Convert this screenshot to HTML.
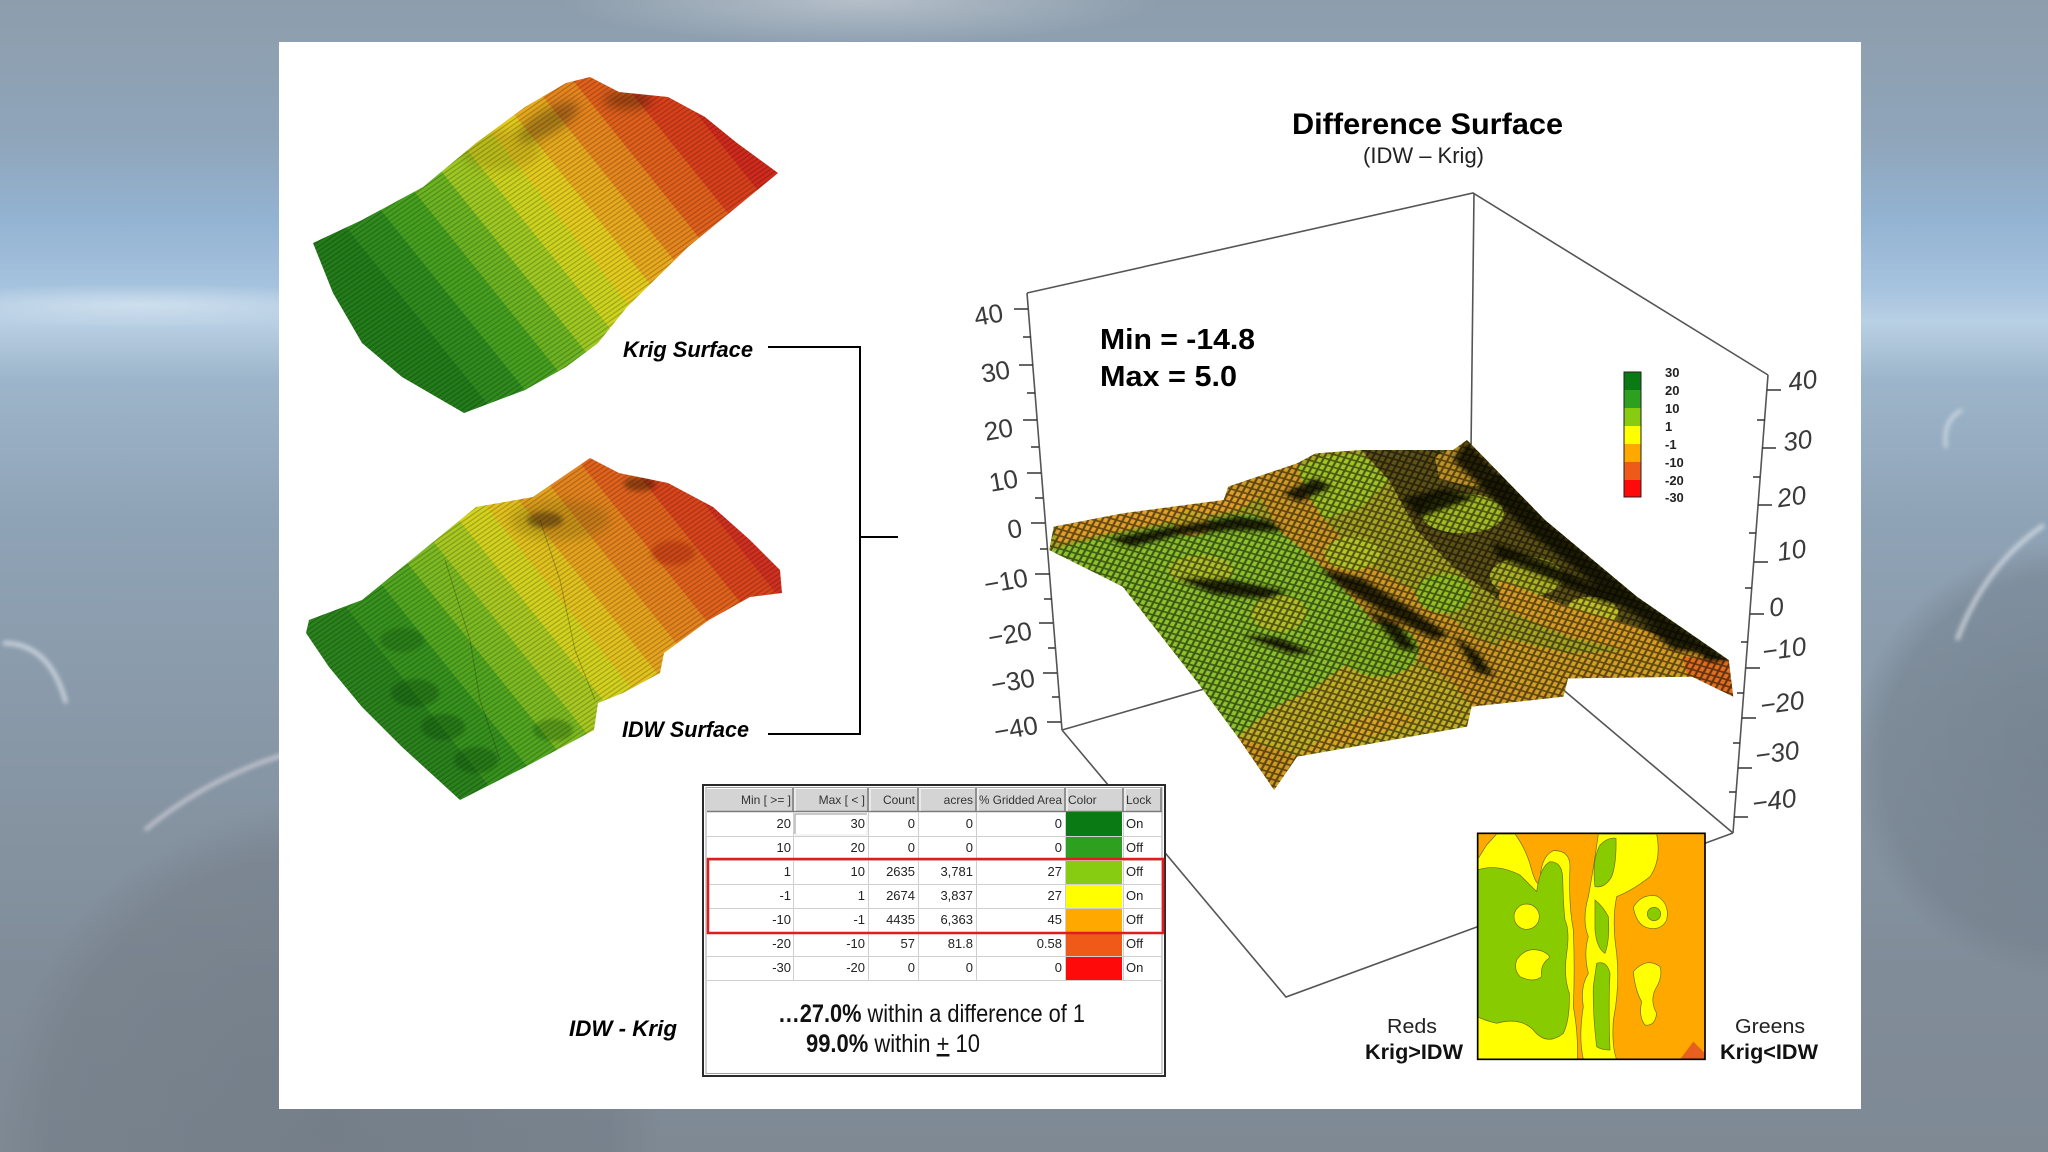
<!DOCTYPE html>
<html><head><meta charset="utf-8">
<style>
html,body{margin:0;padding:0;width:2048px;height:1152px;overflow:hidden;background:#8a9aaa}
svg{display:block;position:absolute;left:0;top:0}
text{font-family:"Liberation Sans",Arial,sans-serif}
</style></head><body>
<svg xmlns="http://www.w3.org/2000/svg" width="2048" height="1152" viewBox="0 0 2048 1152">
<defs>
  <linearGradient id="bg" x1="0" y1="0" x2="0" y2="1">
    <stop offset="0" stop-color="#8d9dac"/>
    <stop offset="0.12" stop-color="#8fa5ba"/>
    <stop offset="0.19" stop-color="#93b3d2"/>
    <stop offset="0.25" stop-color="#a6c3de"/>
    <stop offset="0.28" stop-color="#b9d0e4"/>
    <stop offset="0.33" stop-color="#9db5ca"/>
    <stop offset="0.45" stop-color="#8fa3b6"/>
    <stop offset="0.65" stop-color="#8897a6"/>
    <stop offset="0.85" stop-color="#808c98"/>
    <stop offset="1" stop-color="#7e8994"/>
  </linearGradient>
  <radialGradient id="glowTop" gradientUnits="userSpaceOnUse" cx="860" cy="0" r="300" gradientTransform="translate(860 0) scale(1 0.15) translate(-860 0)">
    <stop offset="0" stop-color="#ffffff" stop-opacity="0.35"/>
    <stop offset="1" stop-color="#ffffff" stop-opacity="0"/>
  </radialGradient>
  <radialGradient id="glowL" gradientUnits="userSpaceOnUse" cx="140" cy="305" r="240" gradientTransform="translate(140 305) scale(1 0.09) translate(-140 -305)">
    <stop offset="0" stop-color="#e2edf6" stop-opacity="0.6"/>
    <stop offset="1" stop-color="#e2edf6" stop-opacity="0"/>
  </radialGradient>
  <radialGradient id="planetL" gradientUnits="userSpaceOnUse" cx="330" cy="1130" r="330">
    <stop offset="0" stop-color="#6e7781" stop-opacity="0.6"/>
    <stop offset="0.85" stop-color="#737c86" stop-opacity="0.5"/>
    <stop offset="1" stop-color="#737c86" stop-opacity="0"/>
  </radialGradient>
  <radialGradient id="planetR" gradientUnits="userSpaceOnUse" cx="2070" cy="760" r="220">
    <stop offset="0" stop-color="#6a7682" stop-opacity="0.6"/>
    <stop offset="0.85" stop-color="#6f7b87" stop-opacity="0.45"/>
    <stop offset="1" stop-color="#6f7b87" stop-opacity="0"/>
  </radialGradient>
  <filter id="b3" x="-50%" y="-50%" width="200%" height="200%"><feGaussianBlur stdDeviation="2.5"/></filter>
  <filter id="b2" x="-50%" y="-50%" width="200%" height="200%"><feGaussianBlur stdDeviation="1.5"/></filter>
  <filter id="b5" x="-50%" y="-50%" width="200%" height="200%"><feGaussianBlur stdDeviation="5"/></filter>
  <filter id="sb" x="-20%" y="-20%" width="140%" height="140%"><feGaussianBlur stdDeviation="6"/></filter>

  <linearGradient id="gK" gradientUnits="userSpaceOnUse" x1="380" y1="330" x2="708" y2="67.5">
    <stop offset="0" stop-color="#237c1a"/><stop offset="0.09" stop-color="#237c1a"/>
    <stop offset="0.09" stop-color="#2f8b1e"/><stop offset="0.18" stop-color="#2f8b1e"/>
    <stop offset="0.18" stop-color="#46a020"/><stop offset="0.27" stop-color="#46a020"/>
    <stop offset="0.27" stop-color="#6cb422"/><stop offset="0.35" stop-color="#6cb422"/>
    <stop offset="0.35" stop-color="#9ec822"/><stop offset="0.43" stop-color="#9ec822"/>
    <stop offset="0.43" stop-color="#ccd41f"/><stop offset="0.5" stop-color="#ccd41f"/>
    <stop offset="0.5" stop-color="#e4cc1e"/><stop offset="0.57" stop-color="#e4cc1e"/>
    <stop offset="0.57" stop-color="#e8aa1e"/><stop offset="0.65" stop-color="#e8aa1e"/>
    <stop offset="0.65" stop-color="#e6861e"/><stop offset="0.73" stop-color="#e6861e"/>
    <stop offset="0.73" stop-color="#e0601c"/><stop offset="0.82" stop-color="#e0601c"/>
    <stop offset="0.82" stop-color="#d8401c"/><stop offset="0.91" stop-color="#d8401c"/>
    <stop offset="0.91" stop-color="#cf2a1c"/><stop offset="1" stop-color="#cf2a1c"/>
  </linearGradient>
  <linearGradient id="gI" gradientUnits="userSpaceOnUse" x1="380" y1="717" x2="708" y2="454.5">
    <stop offset="0" stop-color="#2a821c"/><stop offset="0.1" stop-color="#2a821c"/>
    <stop offset="0.1" stop-color="#37921e"/><stop offset="0.2" stop-color="#37921e"/>
    <stop offset="0.2" stop-color="#52a620"/><stop offset="0.28" stop-color="#52a620"/>
    <stop offset="0.28" stop-color="#7cba22"/><stop offset="0.36" stop-color="#7cba22"/>
    <stop offset="0.36" stop-color="#a8c822"/><stop offset="0.44" stop-color="#a8c822"/>
    <stop offset="0.44" stop-color="#d2d21f"/><stop offset="0.51" stop-color="#d2d21f"/>
    <stop offset="0.51" stop-color="#e2c21e"/><stop offset="0.58" stop-color="#e2c21e"/>
    <stop offset="0.58" stop-color="#e6a41e"/><stop offset="0.66" stop-color="#e6a41e"/>
    <stop offset="0.66" stop-color="#e4841e"/><stop offset="0.75" stop-color="#e4841e"/>
    <stop offset="0.75" stop-color="#e0621c"/><stop offset="0.84" stop-color="#e0621c"/>
    <stop offset="0.84" stop-color="#d8441c"/><stop offset="0.92" stop-color="#d8441c"/>
    <stop offset="0.92" stop-color="#d03020"/><stop offset="1" stop-color="#d03020"/>
  </linearGradient>
  <pattern id="fine" width="4" height="4" patternUnits="userSpaceOnUse" patternTransform="rotate(-35)">
    <rect width="4" height="1.3" fill="#000" opacity="0.22"/>
  </pattern>
  <pattern id="mesh" width="14" height="18" patternUnits="userSpaceOnUse" patternTransform="rotate(22)">
    <path d="M0,0 L14,0 M0,0 L0,18 M0,18 L14,18 M14,0 L14,18" stroke="#000" stroke-width="5" fill="none"/>
  </pattern>
  <clipPath id="cS">
    <polygon points="30,320 180,280 400,240 410,200 560,130 600,100 700,90 900,90 930,60 1100,300 1300,530 1500,720 1510,830 1420,770 1150,775 1140,830 940,860 930,920 560,1010 510,1110 430,950 350,800 180,500 20,390"/>
  </clipPath>
  <clipPath id="cK">
    <path d="M590,77 L619,92 L668,97 L705,117 L737,143 L778,173 L688,247 L627,307 L598,343 L566,367 L525,390 L464,413 L402,377 L362,343 L333,293 L313,243 L362,220 L423,187 L476,143 L525,107 L566,83 Z"/>
  </clipPath>
  <clipPath id="cI">
    <path d="M590,458 L619,473 L668,483 L713,507 L750,540 L780,570 L782,593 L750,597 L709,620 L664,653 L660,673 L623,693 L598,703 L594,730 L525,767 L460,800 L402,747 L362,707 L329,667 L306,633 L309,620 L362,600 L427,547 L476,507 L533,497 Z"/>
  </clipPath>
  <clipPath id="cM"><rect x="413" y="40" width="682" height="678"/></clipPath>
</defs>

<!-- background -->
<rect width="2048" height="1152" fill="url(#bg)"/>
<rect x="500" y="0" width="720" height="50" fill="url(#glowTop)"/>
<rect x="0" y="270" width="380" height="70" fill="url(#glowL)"/>
<rect x="0" y="790" width="680" height="362" fill="url(#planetL)"/>
<rect x="1850" y="540" width="198" height="440" fill="url(#planetR)"/>
<path d="M145,830 Q210,776 290,753" stroke="#f2eaf2" stroke-width="3" fill="none" opacity="0.75" filter="url(#b3)"/>
<path d="M3,643 Q50,643 66,703" stroke="#eef2f6" stroke-width="4" fill="none" opacity="0.7" filter="url(#b3)"/>
<path d="M1957,640 Q1985,565 2044,525" stroke="#eef2f6" stroke-width="4" fill="none" opacity="0.7" filter="url(#b3)"/>
<path d="M1962,410 Q1942,420 1946,448" stroke="#eef2f6" stroke-width="3" fill="none" opacity="0.7" filter="url(#b3)"/>

<!-- white panel -->
<rect x="279" y="42" width="1582" height="1067" fill="#ffffff"/>

<!-- Krig surface -->
<g clip-path="url(#cK)">
  <rect x="300" y="60" width="500" height="370" fill="url(#gK)"/>
  <ellipse cx="548" cy="122" rx="34" ry="12" transform="rotate(-30 548 122)" fill="#2a1a08" opacity="0.35" filter="url(#b5)"/>
  <ellipse cx="628" cy="100" rx="24" ry="9" fill="#1a0a04" opacity="0.35" filter="url(#b5)"/>
  <ellipse cx="500" cy="150" rx="40" ry="20" fill="#6a5010" opacity="0.2" filter="url(#b5)"/>
  <rect x="300" y="60" width="500" height="370" fill="url(#fine)"/>
</g>

<!-- IDW surface -->
<g clip-path="url(#cI)">
  <rect x="300" y="440" width="500" height="370" fill="url(#gI)"/>
  <ellipse cx="560" cy="520" rx="50" ry="20" fill="#7a6010" opacity="0.3" filter="url(#b5)"/>
  <ellipse cx="545" cy="520" rx="18" ry="8" fill="#1a1008" opacity="0.4" filter="url(#b3)"/>
  <ellipse cx="640" cy="484" rx="16" ry="7" fill="#1a0a04" opacity="0.4" filter="url(#b3)"/>
  <ellipse cx="673" cy="553" rx="22" ry="12" fill="#a01810" opacity="0.35" filter="url(#b3)"/>
  <ellipse cx="402" cy="640" rx="22" ry="12" fill="#0e4a10" opacity="0.28" filter="url(#b2)"/>
  <ellipse cx="415" cy="693" rx="24" ry="14" fill="#0e4a10" opacity="0.35" filter="url(#b2)"/>
  <ellipse cx="443" cy="727" rx="22" ry="13" fill="#0e4a10" opacity="0.35" filter="url(#b2)"/>
  <ellipse cx="476" cy="760" rx="22" ry="13" fill="#0e4a10" opacity="0.35" filter="url(#b2)"/>
  <ellipse cx="553" cy="730" rx="20" ry="11" fill="#0e4a10" opacity="0.3" filter="url(#b2)"/>
  <path d="M445,560 L470,640 L480,700 L500,760 M540,520 L560,580 L575,650 L595,700" stroke="#202808" stroke-width="1" opacity="0.3" fill="none"/>
  <rect x="300" y="440" width="500" height="370" fill="url(#fine)"/>
</g>

<!-- labels & bracket -->
<text x="623" y="357" font-size="22" font-weight="bold" font-style="italic" textLength="130" lengthAdjust="spacingAndGlyphs" fill="#000">Krig Surface</text>
<text x="622" y="737" font-size="22" font-weight="bold" font-style="italic" textLength="127" lengthAdjust="spacingAndGlyphs" fill="#000">IDW Surface</text>
<text x="569" y="1036" font-size="22" font-weight="bold" font-style="italic" textLength="108" lengthAdjust="spacingAndGlyphs" fill="#000">IDW - Krig</text>
<path d="M768,347 L860,347 L860,734 L768,734 M860,537 L898,537" stroke="#000" stroke-width="2" fill="none"/>

<!-- 3D box lines -->
<g stroke="#555" stroke-width="1.6" fill="none">
  <path d="M1027,293 L1473,193 L1768,375"/>
  <path d="M1474,193 L1471,450"/>
  <path d="M1027,293 L1062,730"/>
  <path d="M1768,375 L1733,833"/>
  <path d="M1062,730 L1286,997 L1733,833"/>
  <path d="M1062,730 L1471,612 L1733,833"/>
</g>
<g stroke="#333" stroke-width="1.6">
  <path d="M1014,309 L1028,309 M1019,365 L1033,365 M1023,420 L1037,420 M1027,473 L1041,473 M1031,523 L1045,523 M1035,574 L1050,574 M1039,623 L1053,623 M1043,673 L1057,673 M1047,722 L1061,722"/>
  <path d="M1023,337 L1031,337 M1027,393 L1035,393 M1031,447 L1039,447 M1035,498 L1043,498 M1040,549 L1048,549 M1044,599 L1052,599 M1048,648 L1055,648 M1052,697 L1059,697"/>
  <path d="M1767,390 L1781,390 M1762,448 L1776,448 M1758,505 L1772,505 M1754,562 L1768,562 M1750,614 L1764,614 M1746,668 L1760,668 M1742,718 L1756,718 M1738,768 L1752,768 M1734,817 L1748,817"/>
  <path d="M1757,420 L1765,420 M1753,477 L1760,477 M1749,533 L1756,533 M1745,588 L1752,588 M1741,642 L1748,642 M1737,693 L1744,693 M1733,743 L1740,743 M1729,792 L1736,792"/>
</g>
<g font-size="26" fill="#3a3a3a" text-anchor="end">
  <text x="1003" y="324" transform="rotate(-10 987 315)">40</text>
  <text x="1010" y="381" transform="rotate(-10 993 372)">30</text>
  <text x="1013" y="439" transform="rotate(-10 996 430)">20</text>
  <text x="1018" y="490" transform="rotate(-10 1001 481)">10</text>
  <text x="1022" y="538" transform="rotate(-10 1013 529)">0</text>
  <text x="1028" y="591" transform="rotate(-10 1000 582)">−10</text>
  <text x="1032" y="644" transform="rotate(-10 1005 635)">−20</text>
  <text x="1035" y="691" transform="rotate(-10 1008 682)">−30</text>
  <text x="1038" y="738" transform="rotate(-10 1012 729)">−40</text>
</g>
<g font-size="26" fill="#3a3a3a" font-style="italic">
  <text x="1788" y="389" transform="rotate(-8 1806 380)">40</text>
  <text x="1783" y="449" transform="rotate(-8 1801 440)">30</text>
  <text x="1777" y="505" transform="rotate(-8 1795 496)">20</text>
  <text x="1777" y="559" transform="rotate(-8 1792 550)">10</text>
  <text x="1769" y="616" transform="rotate(-8 1776 607)">0</text>
  <text x="1762" y="657" transform="rotate(-8 1790 648)">−10</text>
  <text x="1760" y="711" transform="rotate(-8 1787 702)">−20</text>
  <text x="1755" y="761" transform="rotate(-8 1782 752)">−30</text>
  <text x="1752" y="809" transform="rotate(-8 1778 800)">−40</text>
</g>

<!-- 3D difference surface -->
<g transform="translate(1040,420) scale(0.45914,0.33333)">
 <g clip-path="url(#cS)">
  <rect x="0" y="0" width="1568" height="1200" fill="#a8a424"/>
  <polygon points="20,390 180,340 350,300 460,280 540,340 640,470 720,600 700,700 600,800 500,870 430,950 350,800 180,500" fill="#8cc22c"/>
  <polygon points="430,950 500,870 600,800 700,700 800,720 900,790 940,860 930,920 560,1010 510,1110" fill="#c4b026"/>
  <polygon points="430,950 560,1010 510,1110" fill="#d09a22"/>
  <polygon points="560,1010 700,960 820,900 760,860 640,930" fill="#d8a624"/>
  <polygon points="30,320 180,280 400,240 410,200 480,230 430,270 300,300 180,330 40,370" fill="#e0a02a"/>
  <polygon points="410,200 560,130 600,140 620,300 700,420 800,500 950,650 1140,780 1150,775 1140,830 940,860 900,790 800,700 700,560 600,420 520,330 480,230" fill="#d09a24"/>
  <polygon points="560,140 620,110 700,100 760,180 700,260 620,300 580,220" fill="#a2c426"/>
  <ellipse cx="680" cy="400" rx="60" ry="50" fill="#b8c426"/>
  <ellipse cx="880" cy="520" rx="60" ry="60" fill="#94c024"/>
  <ellipse cx="740" cy="690" rx="85" ry="80" fill="#8cbc26"/>
  <ellipse cx="520" cy="580" rx="60" ry="55" fill="#b4c026"/>
  <ellipse cx="350" cy="450" rx="70" ry="45" fill="#b0c228"/>
  <ellipse cx="330" cy="310" rx="40" ry="40" fill="#c8a826"/>
  <!-- upper right back slope -->
  <polygon points="700,90 900,90 930,60 1100,300 1300,530 1500,720 1420,770 1300,690 1150,640 1000,540 900,440 820,330 760,180" fill="#5e5216"/>
  <polygon points="860,110 930,60 1000,160 950,200 870,180" fill="#c09424"/>
  <ellipse cx="920" cy="280" rx="90" ry="60" fill="#a6bc24"/>
  <ellipse cx="1060" cy="470" rx="80" ry="60" fill="#b0b424"/>
  <ellipse cx="1200" cy="580" rx="60" ry="50" fill="#c4c028"/>
  <polygon points="1000,480 1150,560 1300,620 1450,700 1420,770 1300,700 1150,650 1000,560" fill="#d89e24"/>
  <polygon points="1000,650 1150,700 1300,690 1420,770 1150,775 1140,830 1000,780" fill="#d2a024"/>
  <polygon points="1400,710 1500,720 1510,830 1410,770" fill="#e07020"/>
  <!-- soft dark streaks -->
  <g filter="url(#sb)" fill="#141406" opacity="0.9">
    <polygon points="930,60 1100,300 1300,530 1500,720 1460,725 1270,560 1060,330 900,120"/>
    <polygon points="150,355 300,318 430,290 500,302 530,335 420,330 300,345 200,380"/>
    <polygon points="300,475 420,482 540,515 490,535 380,522"/>
    <polygon points="440,645 520,655 600,700 545,700"/>
    <polygon points="610,445 700,475 800,560 890,645 860,658 760,585 650,495"/>
    <polygon points="710,565 780,612 825,695 785,685"/>
    <polygon points="900,645 955,700 990,770 950,755"/>
    <polygon points="530,220 600,175 635,200 565,245"/>
    <polygon points="790,235 880,205 950,232 895,258 825,292"/>
    <polygon points="985,365 1100,425 1245,520 1290,555 1230,548 1100,470 995,410"/>
    <polygon points="1100,230 1180,300 1230,380 1180,360 1110,290"/>
    <polygon points="1300,600 1400,660 1450,700 1380,690"/>
  </g>
  <rect x="0" y="0" width="1568" height="1200" fill="url(#mesh)" opacity="0.55"/>
 </g>
</g>

<!-- Title -->
<text x="1292" y="134" font-size="30" font-weight="bold" textLength="271" lengthAdjust="spacingAndGlyphs" fill="#000">Difference Surface</text>
<text x="1363" y="163" font-size="22" textLength="121" lengthAdjust="spacingAndGlyphs" fill="#222">(IDW – Krig)</text>
<text x="1100" y="349" font-size="29" font-weight="bold" textLength="155" lengthAdjust="spacingAndGlyphs" fill="#000">Min = -14.8</text>
<text x="1100" y="386" font-size="29" font-weight="bold" textLength="137" lengthAdjust="spacingAndGlyphs" fill="#000">Max = 5.0</text>

<!-- colorbar -->
<g>
  <rect x="1624" y="372" width="17" height="18" fill="#0a7a14"/>
  <rect x="1624" y="390" width="17" height="18" fill="#2ea020"/>
  <rect x="1624" y="408" width="17" height="18" fill="#88cc12"/>
  <rect x="1624" y="426" width="17" height="18" fill="#ffff00"/>
  <rect x="1624" y="444" width="17" height="18" fill="#ffa800"/>
  <rect x="1624" y="462" width="17" height="18" fill="#f05a18"/>
  <rect x="1624" y="480" width="17" height="17" fill="#ff0a0a"/>
  <rect x="1624" y="372" width="17" height="125" fill="none" stroke="#222" stroke-width="1"/>
</g>
<g font-size="13" font-weight="bold" fill="#222">
  <text x="1665" y="377">30</text>
  <text x="1665" y="395">20</text>
  <text x="1665" y="413">10</text>
  <text x="1665" y="431">1</text>
  <text x="1665" y="449">-1</text>
  <text x="1665" y="467">-10</text>
  <text x="1665" y="485">-20</text>
  <text x="1665" y="502">-30</text>
</g>

<!-- Table -->
<g>
  <rect x="703" y="785" width="462" height="291" fill="#ffffff" stroke="#2a2a2a" stroke-width="2"/>
  <rect x="706" y="787.5" width="456" height="286" fill="none" stroke="#a0a0a0" stroke-width="1"/>
  <rect x="707" y="788" width="455" height="24" fill="#d4d4d4"/>
  <path d="M707,788.5 L1162,788.5" stroke="#fff" stroke-width="1"/>
  <path d="M707,811.5 L1162,811.5" stroke="#7a7a7a" stroke-width="1.5"/>
  <g stroke="#7a7a7a" stroke-width="1.5">
    <path d="M793,788 L793,812 M868,788 L868,812 M918,788 L918,812 M976,788 L976,812 M1065,788 L1065,812 M1123,788 L1123,812 M1161,788 L1161,812"/>
  </g>
  <g stroke="#ffffff" stroke-width="1">
    <path d="M795,789 L795,811 M870,789 L870,811 M920,789 L920,811 M978,789 L978,811 M1067,789 L1067,811 M1125,789 L1125,811"/>
  </g>
  <g font-size="12" fill="#333">
    <text x="791" y="804" text-anchor="end">Min [ &gt;= ]</text>
    <text x="865" y="804" text-anchor="end">Max [ &lt; ]</text>
    <text x="915" y="804" text-anchor="end">Count</text>
    <text x="973" y="804" text-anchor="end">acres</text>
    <text x="1062" y="804" text-anchor="end" textLength="83" lengthAdjust="spacingAndGlyphs">% Gridded Area</text>
    <text x="1068" y="804">Color</text>
    <text x="1126" y="804">Lock</text>
  </g>
  <rect x="1066" y="812" width="56" height="24" fill="#0a7a14"/>
  <rect x="1066" y="836" width="56" height="24" fill="#2ea020"/>
  <rect x="1066" y="860" width="56" height="24" fill="#88cc12"/>
  <rect x="1066" y="884" width="56" height="24" fill="#ffff00"/>
  <rect x="1066" y="908" width="56" height="24" fill="#ffa800"/>
  <rect x="1066" y="932" width="56" height="24" fill="#f05a18"/>
  <rect x="1066" y="956" width="56" height="24" fill="#ff0a0a"/>
  <g stroke="#cfcfcf" stroke-width="1">
    <path d="M707,836.5 L1162,836.5 M707,860.5 L1162,860.5 M707,884.5 L1162,884.5 M707,908.5 L1162,908.5 M707,932.5 L1162,932.5 M707,956.5 L1162,956.5 M707,980.5 L1162,980.5"/>
    <path d="M793.5,812 L793.5,980 M868.5,812 L868.5,980 M918.5,812 L918.5,980 M976.5,812 L976.5,980 M1065.5,812 L1065.5,980 M1123.5,812 L1123.5,980"/>
  </g>
  <path d="M795,834 L795,814 L867,814" stroke="#909090" stroke-width="1" fill="none"/>
  <path d="M795,835 L867,835 L867,814" stroke="#e8e8e8" stroke-width="1" fill="none"/>
  <g font-size="13" fill="#222" text-anchor="end">
    <text x="791" y="828">20</text><text x="865" y="828">30</text><text x="915" y="828">0</text><text x="973" y="828">0</text><text x="1062" y="828">0</text>
    <text x="791" y="852">10</text><text x="865" y="852">20</text><text x="915" y="852">0</text><text x="973" y="852">0</text><text x="1062" y="852">0</text>
    <text x="791" y="876">1</text><text x="865" y="876">10</text><text x="915" y="876">2635</text><text x="973" y="876">3,781</text><text x="1062" y="876">27</text>
    <text x="791" y="900">-1</text><text x="865" y="900">1</text><text x="915" y="900">2674</text><text x="973" y="900">3,837</text><text x="1062" y="900">27</text>
    <text x="791" y="924">-10</text><text x="865" y="924">-1</text><text x="915" y="924">4435</text><text x="973" y="924">6,363</text><text x="1062" y="924">45</text>
    <text x="791" y="948">-20</text><text x="865" y="948">-10</text><text x="915" y="948">57</text><text x="973" y="948">81.8</text><text x="1062" y="948">0.58</text>
    <text x="791" y="972">-30</text><text x="865" y="972">-20</text><text x="915" y="972">0</text><text x="973" y="972">0</text><text x="1062" y="972">0</text>
  </g>
  <g font-size="13" fill="#222">
    <text x="1126" y="828">On</text>
    <text x="1126" y="852">Off</text>
    <text x="1126" y="876">Off</text>
    <text x="1126" y="900">On</text>
    <text x="1126" y="924">Off</text>
    <text x="1126" y="948">Off</text>
    <text x="1126" y="972">On</text>
  </g>
  <rect x="708" y="859" width="455" height="74" fill="none" stroke="#e21c1c" stroke-width="2.5"/>
  <text x="778" y="1022" font-size="25" textLength="307" lengthAdjust="spacingAndGlyphs" fill="#111"><tspan font-weight="bold">…27.0%</tspan> within a difference of 1</text>
  <text x="806" y="1052" font-size="25" textLength="174" lengthAdjust="spacingAndGlyphs" fill="#111"><tspan font-weight="bold">99.0%</tspan> within <tspan text-decoration="underline">+</tspan> 10</text>
</g>

<!-- small map -->
<g transform="translate(1340,820) scale(0.33333)">
  <g clip-path="url(#cM)">
    <rect x="413" y="40" width="682" height="678" fill="#ffa800"/>
    <g stroke="#6a6a20" stroke-width="2">
      <path d="M413,118 L440,75 L470,42 L525,42 Q560,90 575,150 Q590,200 600,190 Q600,110 640,92 Q690,90 690,140 Q685,250 700,330 Q705,450 700,560 Q715,640 712,718 L413,718 Z" fill="#ffff00"/>
      <path d="M413,150 Q470,130 540,165 Q575,200 590,215 Q600,140 630,125 Q665,125 668,170 Q670,260 675,300 Q690,330 680,400 Q670,470 688,520 Q690,600 670,640 Q620,680 580,630 Q540,590 470,610 Q430,600 413,590 Z" fill="#88cc00"/>
      <circle cx="560" cy="290" r="38" fill="#ffff00"/>
      <path d="M530,420 Q560,375 610,395 Q640,410 620,420 Q600,440 605,470 Q580,490 540,470 Q520,450 530,420 Z" fill="#ffff00"/>
      <path d="M745,230 Q760,150 775,42 L950,42 Q965,120 930,170 Q880,210 830,230 Q815,300 830,400 Q840,500 820,600 Q815,680 830,718 L730,718 Q715,650 730,560 Q720,500 745,460 Q730,400 745,350 Q725,300 745,230 Z" fill="#ffff00"/>
      <path d="M765,200 Q755,120 780,75 Q805,50 828,55 Q830,130 815,170 Q795,205 765,200 Z" fill="#88cc00"/>
      <path d="M765,240 Q790,260 805,290 Q810,360 795,400 Q770,385 765,330 Z" fill="#88cc00"/>
      <path d="M770,430 Q800,420 810,460 Q805,560 810,690 Q785,690 770,680 Q758,580 760,500 Z" fill="#88cc00"/>
      <path d="M880,262 Q905,220 950,228 Q990,250 980,300 Q965,330 930,325 Q890,320 880,262 Z" fill="#ffff00"/>
      <circle cx="942" cy="282" r="20" fill="#88cc00"/>
      <path d="M880,455 Q920,410 960,440 Q970,470 945,510 Q930,545 950,580 Q945,620 915,615 Q895,590 905,545 Q885,510 880,455 Z" fill="#ffff00"/>
    </g>
    <polygon points="1020,718 1060,665 1095,700 1095,718" fill="#e86020"/>
  </g>
  <rect x="413" y="40" width="682" height="678" fill="none" stroke="#000" stroke-width="5"/>
</g>
<text x="1387" y="1033" font-size="20" textLength="50" lengthAdjust="spacingAndGlyphs" fill="#222">Reds</text>
<text x="1365" y="1059" font-size="21" font-weight="bold" textLength="98" lengthAdjust="spacingAndGlyphs" fill="#111">Krig&gt;IDW</text>
<text x="1735" y="1033" font-size="20" textLength="70" lengthAdjust="spacingAndGlyphs" fill="#222">Greens</text>
<text x="1720" y="1059" font-size="21" font-weight="bold" textLength="98" lengthAdjust="spacingAndGlyphs" fill="#111">Krig&lt;IDW</text>
</svg>
</body></html>
